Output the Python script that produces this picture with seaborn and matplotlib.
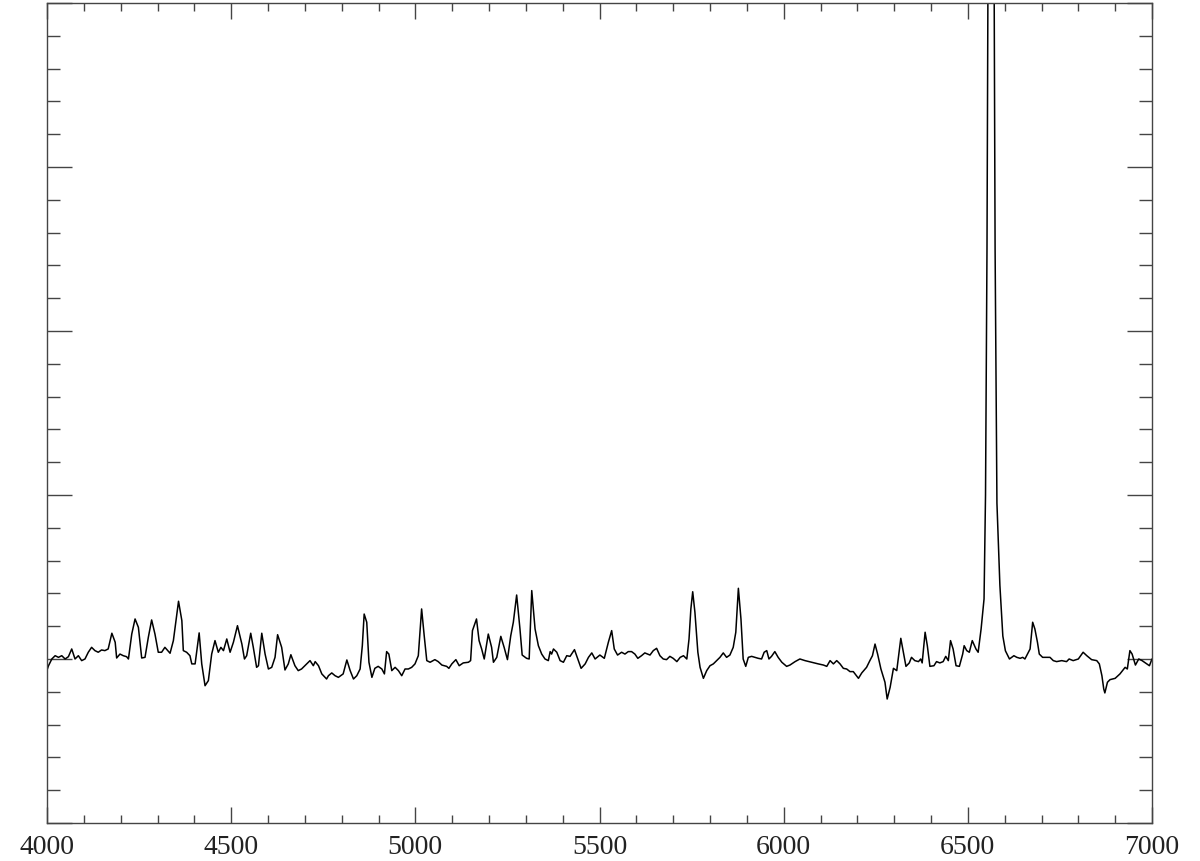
import pandas as pd
import numpy as np
import seaborn as sns
import matplotlib.pyplot as plt
from matplotlib.ticker import MultipleLocator

# spectrum (wavelength in A, normalised flux)
wave_blue = [4000, 4004, 4013, 4022, 4031, 4040, 4049, 4058, 4067, 4076, 4085, 4094,
             4103, 4112, 4121, 4130, 4139, 4148, 4157, 4166, 4176, 4185, 4189, 4198,
             4207, 4216, 4221, 4230, 4239, 4248, 4257, 4266, 4275, 4284, 4293, 4302,
             4311, 4320, 4334, 4343, 4357, 4366, 4370, 4379, 4388, 4393, 4402, 4413,
             4420, 4429, 4438, 4447, 4456, 4465, 4472, 4479, 4488, 4497, 4506, 4517,
             4529, 4536, 4542, 4553, 4560, 4569, 4574, 4583, 4592, 4601, 4610, 4619,
             4626, 4637, 4646, 4655, 4662, 4673, 4682, 4691, 4705, 4714, 4723, 4728,
             4737, 4746, 4759]
flux_blue = [0.933, 0.959, 1.000, 1.020, 1.010, 1.020, 1.000, 1.014, 1.061, 1.000, 1.020, 0.990,
             1.000, 1.041, 1.071, 1.051, 1.041, 1.055, 1.051, 1.061, 1.157, 1.102, 1.006, 1.030,
             1.020, 1.014, 1.000, 1.152, 1.244, 1.193, 1.006, 1.010, 1.132, 1.238, 1.152, 1.041,
             1.041, 1.071, 1.035, 1.112, 1.352, 1.234, 1.051, 1.041, 1.020, 0.970, 0.970, 1.159,
             0.970, 0.837, 0.868, 1.030, 1.112, 1.041, 1.071, 1.051, 1.122, 1.041, 1.102, 1.203,
             1.091, 1.000, 1.020, 1.157, 1.071, 0.949, 0.959, 1.157, 1.030, 0.939, 0.949, 1.010,
             1.148, 1.071, 0.933, 0.970, 1.026, 0.959, 0.929, 0.939, 0.970, 0.990, 0.959, 0.984,
             0.959, 0.909, 0.878]

wave_green = [4764, 4773, 4782, 4791, 4804, 4814, 4823, 4832, 4841, 4850, 4856, 4861,
              4868, 4874, 4882, 4890, 4899, 4909, 4916, 4922, 4928, 4936, 4945, 4954,
              4963, 4972, 4981, 4990, 4999, 5008, 5017, 5024, 5031, 5040, 5053, 5062,
              5072, 5085, 5091, 5099, 5110, 5119, 5130, 5144, 5150, 5155, 5166, 5173,
              5180, 5187, 5198, 5207, 5212, 5221, 5232, 5241, 5250, 5259, 5266, 5275,
              5284, 5290, 5302, 5309, 5316, 5325, 5334, 5343, 5352, 5361, 5366, 5370,
              5375, 5384, 5393, 5402, 5411, 5420, 5432, 5441, 5450, 5461, 5470, 5479,
              5488, 5501, 5513]
flux_green = [0.898, 0.915, 0.898, 0.888, 0.909, 0.994, 0.929, 0.878, 0.898, 0.939, 1.081, 1.274,
              1.224, 0.980, 0.888, 0.943, 0.955, 0.939, 0.909, 1.045, 1.030, 0.929, 0.949, 0.929,
              0.898, 0.939, 0.939, 0.949, 0.970, 1.020, 1.305, 1.142, 0.990, 0.980, 0.996, 0.984,
              0.963, 0.955, 0.943, 0.970, 0.996, 0.959, 0.976, 0.980, 0.990, 1.173, 1.244, 1.112,
              1.061, 1.000, 1.152, 1.071, 0.980, 1.010, 1.138, 1.071, 0.996, 1.142, 1.224, 1.390,
              1.183, 1.024, 1.004, 1.000, 1.417, 1.183, 1.081, 1.030, 1.000, 0.990, 1.045, 1.030,
              1.061, 1.041, 0.990, 0.980, 1.020, 1.016, 1.057, 1.000, 0.943, 0.970, 1.010, 1.037,
              1.000, 1.024, 1.004]

wave_yellow = [5524, 5533, 5540, 5549, 5560, 5569, 5578, 5587, 5596, 5604, 5614, 5623,
               5637, 5646, 5655, 5664, 5673, 5682, 5691, 5700, 5710, 5719, 5728, 5737,
               5743, 5748, 5753, 5759, 5767, 5773, 5782, 5791, 5800, 5809, 5818, 5827,
               5836, 5845, 5854, 5863, 5870, 5877, 5884, 5890, 5897, 5904, 5913, 5922,
               5931, 5940, 5947, 5954, 5960, 5967, 5976, 5985, 5995, 6008, 6017, 6031,
               6044, 6058, 6076, 6094, 6108, 6117, 6126, 6135, 6144, 6153, 6162, 6171,
               6180, 6189, 6203, 6212, 6225, 6234, 6241, 6248, 6255, 6264]
flux_yellow = [1.102, 1.173, 1.061, 1.024, 1.041, 1.030, 1.045, 1.045, 1.030, 1.004, 1.020, 1.037,
               1.024, 1.051, 1.065, 1.020, 1.000, 0.996, 1.016, 1.004, 0.984, 1.010, 1.020, 1.000,
               1.122, 1.305, 1.410, 1.285, 1.041, 0.949, 0.882, 0.929, 0.959, 0.970, 0.990, 1.010,
               1.037, 1.010, 1.024, 1.071, 1.163, 1.431, 1.244, 1.000, 0.955, 1.010, 1.016, 1.010,
               1.004, 1.000, 1.041, 1.051, 1.000, 1.016, 1.045, 1.010, 0.980, 0.955, 0.963, 0.984,
               1.000, 0.990, 0.980, 0.970, 0.963, 0.955, 0.990, 0.970, 0.990, 0.970, 0.943, 0.939,
               0.923, 0.923, 0.882, 0.915, 0.949, 0.990, 1.020, 1.091, 1.030, 0.939]

wave_red = [6269, 6275, 6281, 6289, 6298, 6307, 6318, 6325, 6332, 6341, 6347, 6356,
            6366, 6372, 6376, 6384, 6390, 6397, 6408, 6415, 6424, 6433, 6440, 6447,
            6453, 6460, 6468, 6477, 6486, 6490, 6497, 6504, 6512, 6522, 6528, 6536,
            6544, 6548, 6552, 6556, 6563, 6570, 6574, 6579, 6587, 6595, 6602, 6613,
            6625, 6633, 6642, 6649, 6655, 6662, 6669, 6676, 6682, 6689, 6694, 6703,
            6714, 6723, 6732, 6741, 6755, 6768, 6775, 6786, 6800, 6813, 6823, 6836,
            6850, 6857, 6864, 6869, 6872, 6879, 6886, 6900, 6913, 6927, 6933, 6940,
            6946, 6955, 6964, 6973, 6982, 6993, 7000]
flux_red = [0.902, 0.858, 0.756, 0.827, 0.943, 0.929, 1.126, 1.041, 0.955, 0.976, 1.010, 0.990,
            0.984, 1.000, 0.976, 1.163, 1.081, 0.955, 0.959, 0.984, 0.976, 0.984, 1.016, 0.990,
            1.112, 1.061, 0.959, 0.955, 1.030, 1.081, 1.051, 1.041, 1.112, 1.061, 1.041, 1.183,
            1.366, 2.000, 3.500, 6.000, 8.000, 6.000, 3.500, 1.950, 1.450, 1.140, 1.050, 1.000,
            1.020, 1.010, 1.004, 1.010, 1.000, 1.030, 1.061, 1.224, 1.183, 1.102, 1.030, 1.010,
            1.010, 1.010, 0.990, 0.984, 0.990, 0.984, 1.000, 0.990, 1.000, 1.041, 1.020, 0.996,
            0.990, 0.970, 0.898, 0.817, 0.793, 0.858, 0.874, 0.882, 0.909, 0.949, 0.939, 1.051,
            1.030, 0.963, 1.000, 0.990, 0.976, 0.959, 1.000]

df = pd.DataFrame({
    "wave": wave_blue + wave_green + wave_yellow + wave_red,
    "flux": flux_blue + flux_green + flux_yellow + flux_red,
})

sns.set_style("ticks")
plt.rcParams["font.family"] = ["Liberation Serif", "DejaVu Serif"]

fig = plt.figure(figsize=(12, 8.62), dpi=100)
ax = fig.add_axes([0.0392, 0.0441, 0.9208, 0.9513])

sns.lineplot(data=df, x="wave", y="flux", ax=ax, color="black", linewidth=1.1,
             estimator=None, sort=False)

ax.set_xlim(4000, 7000)
ax.set_ylim(0, 5)
ax.xaxis.set_major_locator(MultipleLocator(500))
ax.xaxis.set_minor_locator(MultipleLocator(100))
ax.yaxis.set_major_locator(MultipleLocator(1))
ax.yaxis.set_minor_locator(MultipleLocator(0.2))
ax.set_xlabel("")
ax.set_ylabel("")
ax.set_yticklabels([])

for s in ax.spines.values():
    s.set_visible(True)
    s.set_color("#444444")
    s.set_linewidth(1.0)

ax.tick_params(axis="x", which="both", direction="in", top=True, bottom=True,
               color="#444444", width=1.0, labelsize=20, pad=8, labelcolor="#222222")
ax.tick_params(axis="x", which="major", length=11.5)
ax.tick_params(axis="x", which="minor", length=5.8)
ax.tick_params(axis="y", which="both", direction="in", left=True, right=True,
               color="#444444", width=1.0, labelleft=False)
ax.tick_params(axis="y", which="major", length=18)
ax.tick_params(axis="y", which="minor", length=9.4)

fig.savefig("out.png", dpi=100)
